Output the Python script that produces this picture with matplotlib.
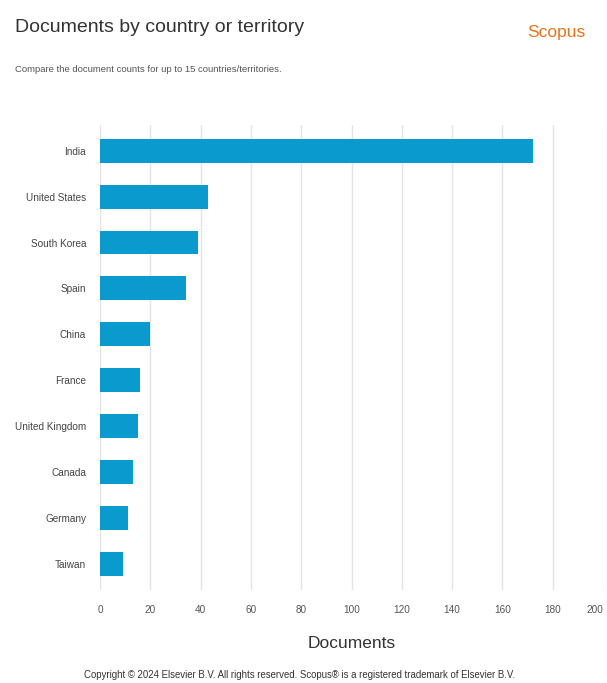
import matplotlib
matplotlib.use("Agg")
import matplotlib.pyplot as plt

plt.rcParams['font.family'] = ['Liberation Sans', 'DejaVu Sans']

countries = ["India", "United States", "South Korea", "Spain", "China",
             "France", "United Kingdom", "Canada", "Germany", "Taiwan"]
documents = [172, 43, 39, 34, 20, 16, 15, 13, 11, 9]
xticks = [0, 20, 40, 60, 80, 100, 120, 140, 160, 180, 200]

W, H = 607, 683
fig = plt.figure(figsize=(W / 100, H / 100), dpi=100)
fig.patch.set_facecolor("white")

# axes box in pixel terms
left, right, top, bottom = 100, 603, 125, 590
ax = fig.add_axes([left / W, 1 - bottom / H, (right - left) / W, (bottom - top) / H])

ypos = list(range(len(countries)))
ax.barh(ypos, documents, height=0.52, color="#0a9acd", zorder=3)
ax.set_ylim(9.57, -0.56)
ax.set_xlim(0, 200)
ax.set_yticks(ypos)
ax.set_yticklabels(countries, fontsize=7.2, color="#444444")
ax.set_xticks(xticks)
ax.set_xticklabels([str(t) for t in xticks], fontsize=7.2, color="#555555")
# keep the last label inside the figure
ax.get_xticklabels()[-1].set_horizontalalignment("right")
ax.tick_params(axis="both", length=0)
ax.tick_params(axis="y", pad=10)
ax.tick_params(axis="x", pad=11)
ax.grid(axis="x", color="#e4e4e4", linewidth=1, zorder=0)
ax.grid(axis="y", visible=False)
for s in ax.spines.values():
    s.set_visible(False)

ax.set_xlabel("Documents", fontsize=12.5, color="#333333", labelpad=15)

fig.text(15 / W, 1 - 28 / H, "Documents by country or territory",
         fontsize=14, color="#333333", va="center", ha="left")
fig.text(15 / W, 1 - 70 / H, "Compare the document counts for up to 15 countries/territories.",
         fontsize=6.8, color="#555555", va="center", ha="left")
fig.text(585 / W, 1 - 33 / H, "Scopus", fontsize=12.5, color="#e9711c",
         va="center", ha="right")
fig.text(299 / W, 1 - 675 / H,
         "Copyright \u00a9 2024 Elsevier B.V. All rights reserved. Scopus\u00ae is a registered trademark of Elsevier B.V.",
         fontsize=6.9, color="#333333", va="center", ha="center")

fig.savefig("out.png", dpi=100, facecolor="white")
